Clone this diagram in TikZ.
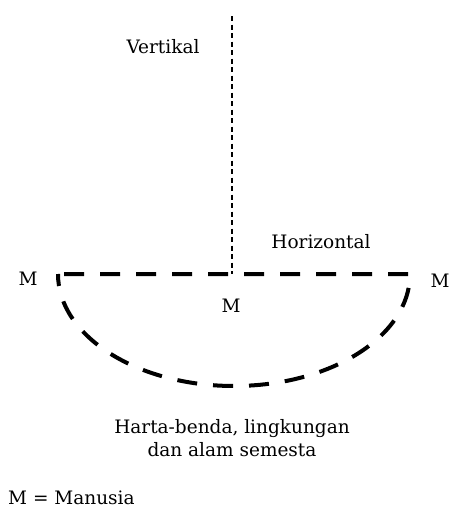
\documentclass[tikz,border=0pt]{standalone}
\usepackage{fontspec}
\setmainfont{DejaVu Serif}
\begin{document}
\begin{tikzpicture}[x=1pt,y=-1pt,
  lbl/.style={font=\fontsize{18.5}{23}\selectfont, inner sep=0pt, align=center},
  thin dash/.style={line width=1.5pt, dash pattern=on 5pt off 3.5pt},
  thick dash/.style={line width=4pt, dash pattern=on 20pt off 16pt}]
\useasboundingbox (0,0) rectangle (450,507);
\coordinate (top) at (232,16);
\coordinate (mid) at (232,274);
\coordinate (L) at (58,274);
\coordinate (R) at (410,274);
\draw[thin dash] (top) -- (mid);
\draw[thick dash, dash phase=30pt, line join=miter] (L) -- (R) arc[start angle=0, end angle=180, x radius=176, y radius=112];
\node[lbl] (vert) at (163,47) {Vertikal};
\node[lbl] (hor) at (321,242) {Horizontal};
\node[lbl] (ml) at (28,279) {M};
\node[lbl] (mm) at (231,306) {M};
\node[lbl] (mr) at (440,281) {M};
\node[lbl] (harta) at (232,438) {Harta-benda, lingkungan\\dan alam semesta};
\node[lbl, anchor=base west] (leg) at (8,504) {M = Manusia};
\end{tikzpicture}
\end{document}
